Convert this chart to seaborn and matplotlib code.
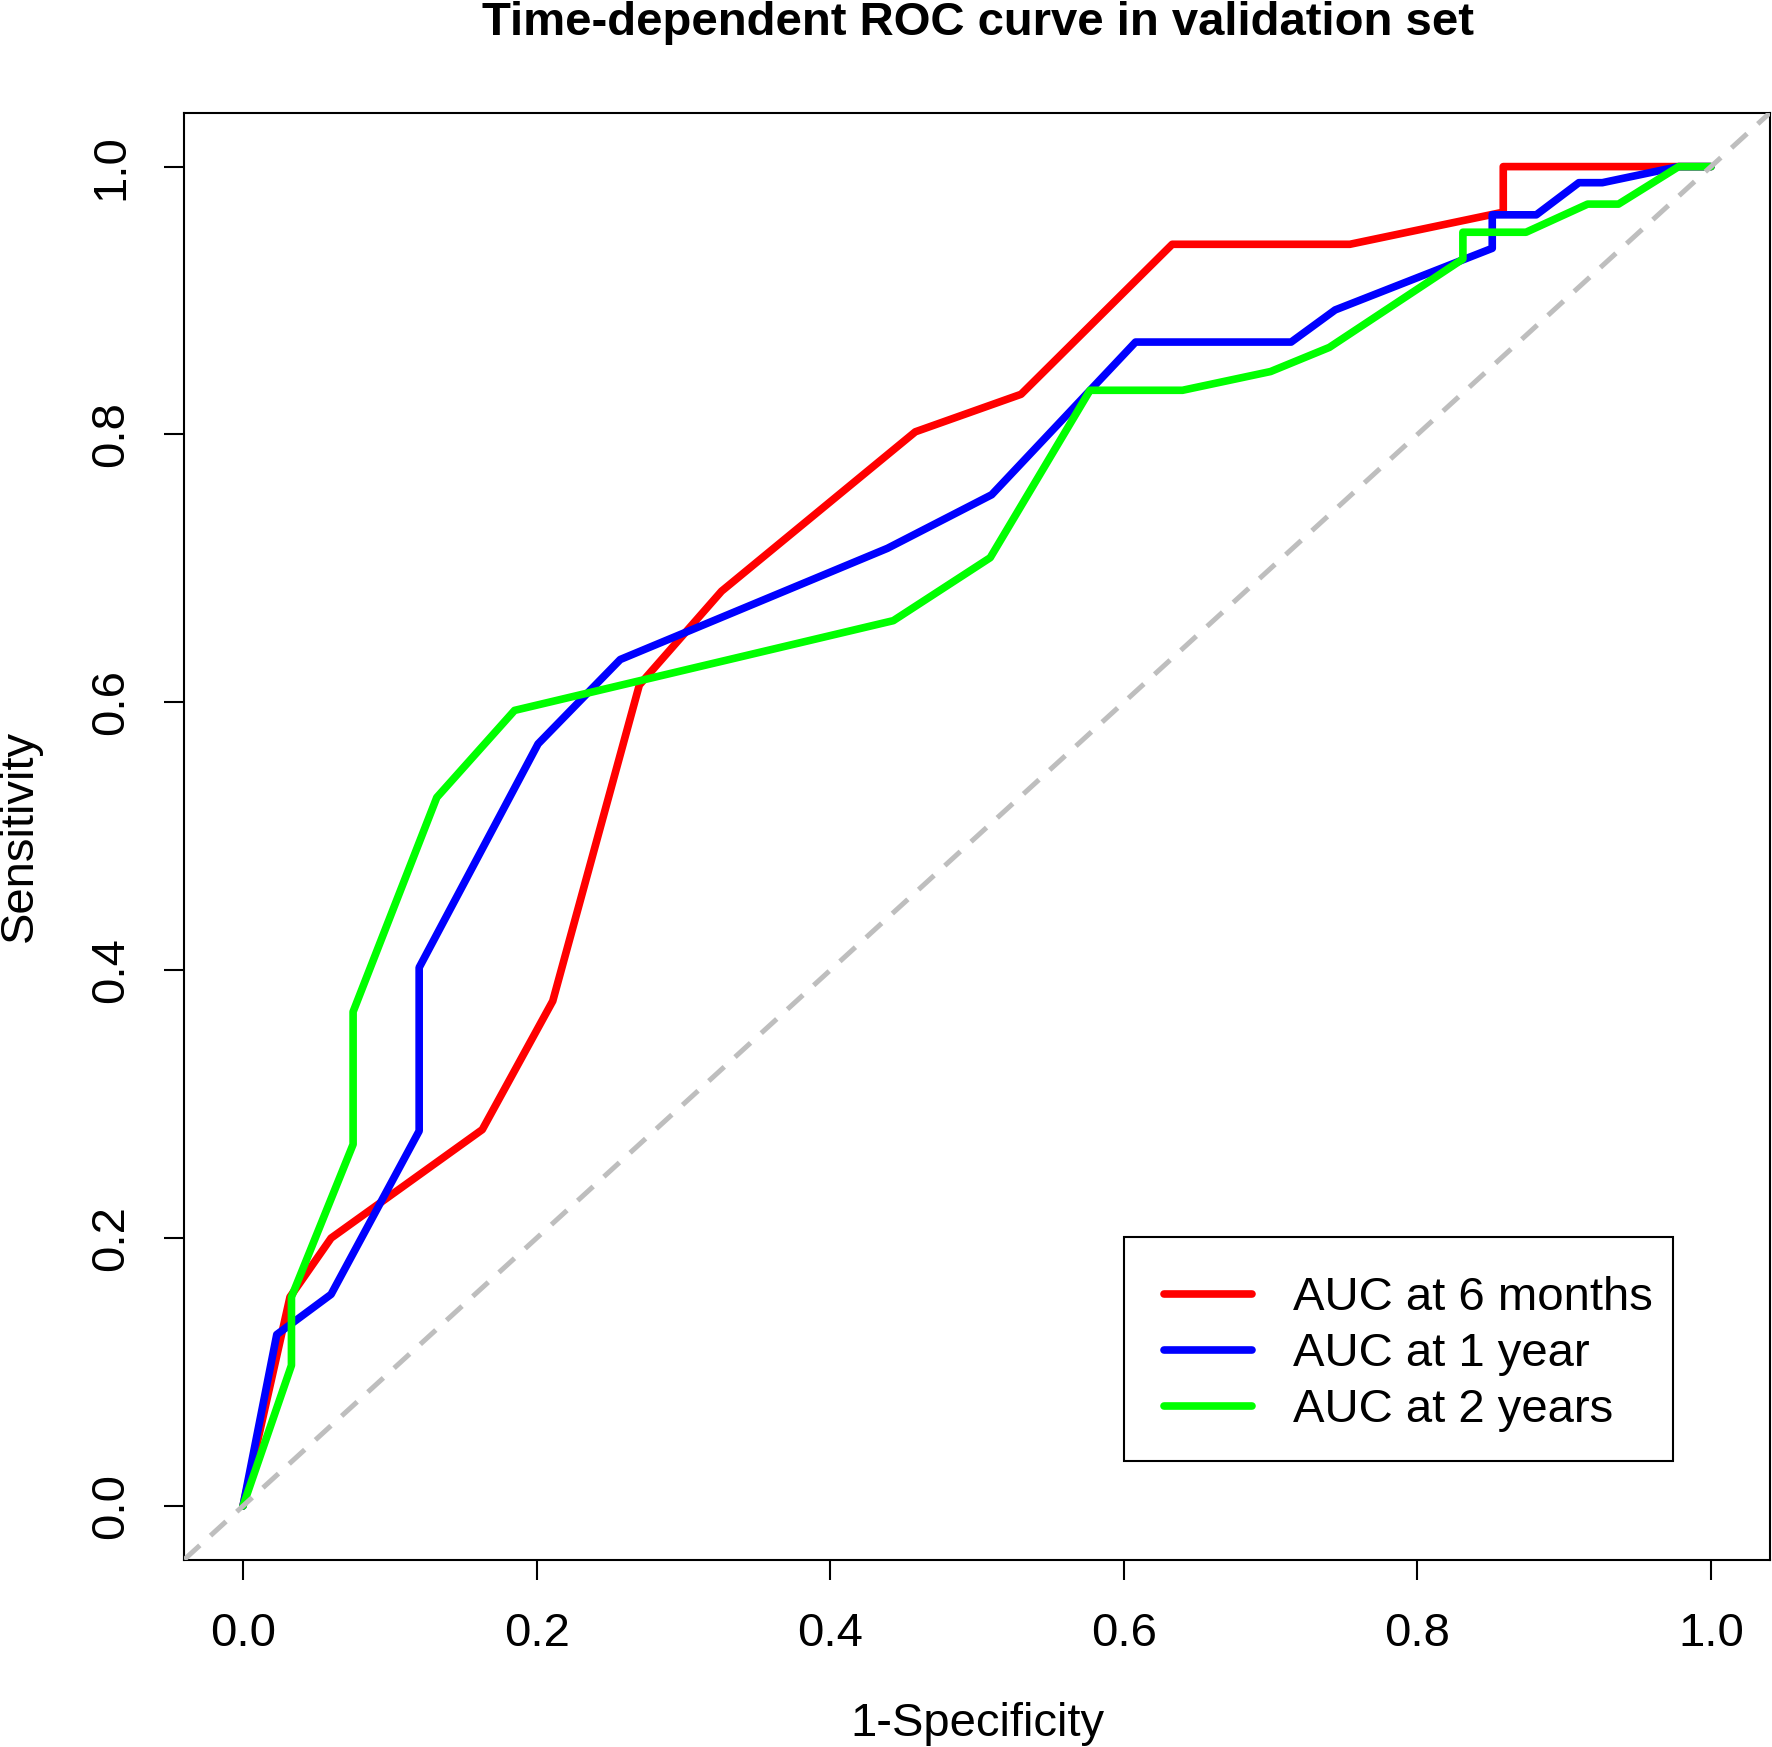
import numpy as np
import pandas as pd
import matplotlib
matplotlib.use("Agg")
import matplotlib.pyplot as plt
from matplotlib.patches import Rectangle
import seaborn as sns

# ---- data ----
fpr_6m = [0.0, 0.032, 0.060, 0.163, 0.211, 0.270, 0.326, 0.458, 0.530, 0.633, 0.754, 0.8585, 0.8585, 1.0]
tpr_6m = [0.0, 0.156, 0.200, 0.281, 0.377, 0.613, 0.683, 0.802, 0.830, 0.942, 0.942, 0.966, 1.000, 1.0]

fpr_1y = [0.0, 0.023, 0.060, 0.120, 0.120, 0.201, 0.257, 0.439, 0.510, 0.608, 0.714, 0.744, 0.851, 0.851, 0.881, 0.910, 0.926, 0.978, 1.0]
tpr_1y = [0.0, 0.128, 0.158, 0.280, 0.402, 0.569, 0.632, 0.715, 0.755, 0.869, 0.869, 0.893, 0.939, 0.964, 0.964, 0.988, 0.988, 1.000, 1.0]

fpr_2y = [0.0, 0.033, 0.033, 0.075, 0.075, 0.132, 0.185, 0.443, 0.509, 0.577, 0.640, 0.700, 0.740, 0.831, 0.831, 0.874, 0.916, 0.937, 0.978, 1.0]
tpr_2y = [0.0, 0.105, 0.156, 0.270, 0.369, 0.529, 0.594, 0.661, 0.708, 0.833, 0.833, 0.847, 0.865, 0.931, 0.951, 0.951, 0.972, 0.972, 1.000, 1.0]

labels = ["AUC at 6 months", "AUC at 1 year", "AUC at 2 years"]
colors = ["#FF0000", "#0000FF", "#00FF00"]
ticks = [0.0, 0.2, 0.4, 0.6, 0.8, 1.0]
tick_labels = ["0.0", "0.2", "0.4", "0.6", "0.8", "1.0"]

title = "Time-dependent ROC curve in validation set"
xlabel = "1-Specificity"
ylabel = "Sensitivity"

sns.set_theme(style="white")
plt.rcParams["font.family"] = ["Liberation Sans", "DejaVu Sans"]
plt.rcParams["text.color"] = "black"
plt.rcParams["axes.labelcolor"] = "black"

fig = plt.figure(figsize=(17.72, 17.47), dpi=100)
ax = fig.add_axes([0.104, 0.1073, 0.8947, 0.828])

series = [(fpr_6m, tpr_6m), (fpr_1y, tpr_1y), (fpr_2y, tpr_2y)]
for (fx, ty), lab, col in zip(series, labels, colors):
    df = pd.DataFrame({"fpr": fx, "tpr": ty})
    sns.lineplot(data=df, x="fpr", y="tpr", sort=False, estimator=None,
                 color=col, linewidth=5.5, label=lab, ax=ax, zorder=3)

ax.axline((0, 0), slope=1, color="#BEBEBE", linestyle=(0, (4.2, 2.9)),
          linewidth=3.6, zorder=4)

ax.set_xlim(-0.04, 1.04)
ax.set_ylim(-0.04, 1.04)
ax.set_xticks(ticks)
ax.set_xticklabels(tick_labels)
ax.set_yticks(ticks)
ax.set_yticklabels(tick_labels, rotation=90, va="center")

for s in ax.spines.values():
    s.set_color("black")
    s.set_linewidth(1.5)

ax.tick_params(axis="both", direction="out", length=14.5, width=1.5,
               colors="black", labelsize=34, bottom=True, left=True)
ax.tick_params(axis="x", pad=23)
ax.tick_params(axis="y", pad=22)

ax.set_xlabel(xlabel, fontsize=34, color="black", va="center")
ax.set_ylabel(ylabel, fontsize=34, color="black", va="center")
ax.xaxis.set_label_coords(0.5, -0.1140)
ax.yaxis.set_label_coords(-0.1036, 0.5)

fig.text(0.5517, 0.987, title, fontsize=34, fontweight="bold",
         ha="center", va="center", color="black")

# legend frame (R-style box)
ax.add_patch(Rectangle((0.5927, 0.0680), 0.9387 - 0.5927, 0.2230 - 0.0680,
                       transform=ax.transAxes, fill=False, edgecolor="black",
                       linewidth=1.5, zorder=5))
leg = ax.legend(loc="upper left", bbox_to_anchor=(0.618, 0.1957),
                borderaxespad=0, borderpad=0, fontsize=34, frameon=False,
                handlelength=1.87, handletextpad=0.85, labelspacing=0.25,
                labelcolor="black")
for h in leg.get_lines():
    h.set_linewidth(5.5)

fig.savefig("out.png", dpi=100, facecolor="white")
